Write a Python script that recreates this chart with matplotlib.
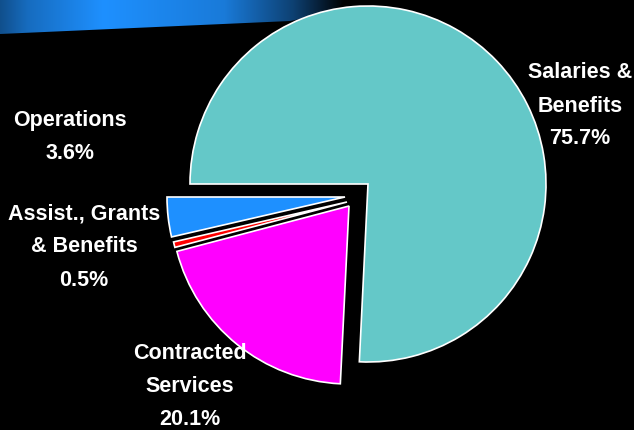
import numpy as np
import matplotlib.pyplot as plt
from matplotlib.path import Path
from matplotlib.patches import PathPatch

# Доли бюджета
labels = ['Salaries &\nBenefits\n75.7%', 'Contracted\nServices\n20.1%',
          'Assist., Grants\n& Benefits\n0.5%', 'Operations\n3.6%']
values = [75.7, 20.1, 0.5, 3.6]
colors = ['#64C8C8', '#FF00FF', '#FF0000', '#1E90FF']

W, H = 634, 431
fig = plt.figure(figsize=(W / 100, H / 100), dpi=100, facecolor='black')
ax = fig.add_axes([0, 0, 1, 1])
ax.set_facecolor('black')

# Декоративная синяя полоса сверху
verts = [(0, H), (345, H), (345, H - 4), (330, H - 14), (290, H - 22),
         (0, H - 35), (0, H)]
codes = [Path.MOVETO, Path.LINETO, Path.CURVE3, Path.CURVE3, Path.LINETO,
         Path.LINETO, Path.CLOSEPOLY]
band = PathPatch(Path(verts, codes), facecolor='none', edgecolor='none')
ax.add_patch(band)
xs = np.linspace(0, 1, 400)
prof = np.interp(xs, [0, 0.08, 0.3, 0.65, 0.85, 1.0], [0.55, 0.75, 1.0, 0.85, 0.45, 0.0])
grad = np.zeros((2, 400, 3))
grad[..., 0] = 30 / 255 * prof
grad[..., 1] = 144 / 255 * prof
grad[..., 2] = 1.0 * prof
im = ax.imshow(grad, extent=[0, 345, H - 36, H], aspect='auto', zorder=0)
im.set_clip_path(band)

# Круговая диаграмма
wedges, _ = ax.pie(values, colors=colors, startangle=180, counterclock=False,
                   radius=178, center=(368, H - 185),
                   wedgeprops=dict(edgecolor='white', linewidth=1.2))
shifts = [(0, 0), (-19, -22), (-21, -18), (-23, -13)]
for w, (dx, dy) in zip(wedges, shifts):
    cx, cy = w.center
    w.set_center((cx + dx, cy + dy))

font = dict(color='white', fontsize=15.5, fontweight='bold', ha='center', va='center',
            linespacing=1.75, family=['Liberation Sans Narrow', 'Liberation Sans', 'DejaVu Sans'])
ax.text(580, H - 106, labels[0], **font)
ax.text(190, H - 387, labels[1], **font)
ax.text(84, H - 247, labels[2], **font)
ax.text(70, H - 137, labels[3], **font)

ax.set_xlim(0, W)
ax.set_ylim(0, H)
ax.set_aspect('auto')
ax.axis('off')
fig.savefig('out.png', dpi=100, facecolor='black')
